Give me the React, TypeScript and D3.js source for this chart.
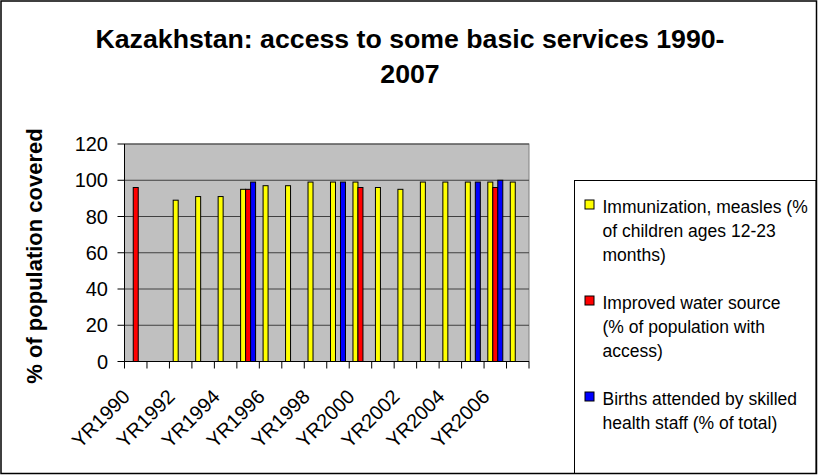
import React from "react";
import * as d3 from "d3";

const years: string[] = ["1990","1991","1992","1993","1994","1995","1996","1997","1998","1999","2000","2001","2002","2003","2004","2005","2006","2007"];
const categories: string[] = years.map((y) => "YR" + y);
const immunization: (number | null)[] = [null, null, 89, 91, 91, 95, 97, 97, 99, 99, 99, 96, 95, 99, 99, 99, 99, 99];
const water: (number | null)[] = [96, null, null, null, null, 95, null, null, null, null, 96, null, null, null, null, null, 96, null];
const births: (number | null)[] = [null, null, null, null, null, 99, null, null, null, 99, null, null, null, null, null, 99, 100, null];
const yTicks: number[] = [0, 20, 40, 60, 80, 100, 120];
const titleLines: string[] = ["Kazakhstan: access to some basic services 1990-", "2007"];
const yTitle = "% of population covered";
const seriesNames: string[][] = [
  ["Immunization, measles (%", "of children ages 12-23", "months)"],
  ["Improved water source", "(% of population with", "access)"],
  ["Births attended by skilled", "health staff (% of total)"],
];
const seriesColors: string[] = ["#FFFF00", "#FF0000", "#0000FF"];

const W = 818;
const H = 475;
const FONT = "'Liberation Sans', Arial, sans-serif";

export default function App() {
  const plot = { left: 124.5, right: 529, top: 144, bottom: 361.5 };
  const x = d3.scaleBand<string>().domain(categories).range([plot.left, plot.right]).paddingInner(0).paddingOuter(0);
  const y = d3.scaleLinear().domain([0, 120]).range([plot.bottom, plot.top]);
  const step = x.step();
  const barW = step / 4.5;
  const series = [immunization, water, births];

  const bars: React.ReactNode[] = [];
  series.forEach((vals, si) => {
    vals.forEach((v, ci) => {
      if (v == null) return;
      const cx = (x(categories[ci]) as number) + step / 2;
      const bx = cx - barW * 1.5 + si * barW;
      bars.push(
        <rect key={`b${si}-${ci}`} x={bx} y={y(v)} width={barW} height={y(0) - y(v)}
          fill={seriesColors[si]} stroke="#000" strokeWidth={1} />
      );
    });
  });

  const boundaries = d3.range(categories.length + 1).map((i) => plot.left + i * step);

  return (
    <svg width={W} height={H} style={{ position: "absolute", left: 0, top: 0, background: "#fff" }} fontFamily={FONT}>
      <rect x={0} y={0} width={W} height={H} fill="#fff" />
      {/* plot area */}
      <rect x={plot.left} y={plot.top} width={plot.right - plot.left} height={plot.bottom - plot.top} fill="#C0C0C0" stroke="#808080" strokeWidth={1} />
      {yTicks.map((t) => (
        <line key={`g${t}`} x1={plot.left} x2={plot.right} y1={y(t)} y2={y(t)} stroke="#404040" strokeWidth={1} />
      ))}
      {bars}
      {/* axes */}
      <line x1={plot.left} x2={plot.left} y1={plot.top} y2={plot.bottom} stroke="#000" strokeWidth={1} />
      <line x1={plot.left} x2={plot.right} y1={plot.bottom} y2={plot.bottom} stroke="#000" strokeWidth={1} />
      {yTicks.map((t) => (
        <g key={`yt${t}`}>
          <line x1={plot.left - 7} x2={plot.left} y1={y(t)} y2={y(t)} stroke="#000" strokeWidth={1} />
          <text x={108} y={y(t)} dy="0.36em" textAnchor="end" fontSize={20} fill="#000">{t}</text>
        </g>
      ))}
      {boundaries.map((bx, i) => (
        <line key={`xt${i}`} x1={bx} x2={bx} y1={plot.bottom} y2={plot.bottom + 7} stroke="#000" strokeWidth={1} />
      ))}
      {categories.map((c, i) => {
        if (i % 2 !== 0) return null;
        const cx = (x(c) as number) + step / 2;
        return (
          <text key={`xl${c}`} transform={`translate(${cx - 4.5},398) rotate(-45)`} textAnchor="end" fontSize={20} fill="#000">{c}</text>
        );
      })}
      {/* y title */}
      <text transform={`translate(42,256) rotate(-90)`} textAnchor="middle" fontSize={22} fontWeight="bold" fill="#000">{yTitle}</text>
      {/* title */}
      <text x={410} y={47.5} textAnchor="middle" fontSize={26.7} fontWeight="bold" fill="#000">{titleLines[0]}</text>
      <text x={410} y={83.3} textAnchor="middle" fontSize={26.7} fontWeight="bold" fill="#000">{titleLines[1]}</text>
      {/* legend */}
      <rect x={574.5} y={180.5} width={241.5} height={293} fill="#fff" stroke="#000" strokeWidth={1} />
      {seriesNames.map((lines, si) => {
        const base = 212.5 + si * 96;
        return (
          <g key={`lg${si}`}>
            <rect x={585} y={base - 12.5} width={9} height={9} fill={seriesColors[si]} stroke="#000" strokeWidth={1} />
            {lines.map((ln, li) => (
              <text key={li} x={602.5} y={base + li * 24} fontSize={17.5} fill="#000">{ln}</text>
            ))}
          </g>
        );
      })}
      {/* outer border */}
      <rect x={1} y={1} width={815.5} height={472.5} fill="none" stroke="#000" strokeWidth={1.5} />
    </svg>
  );
}
